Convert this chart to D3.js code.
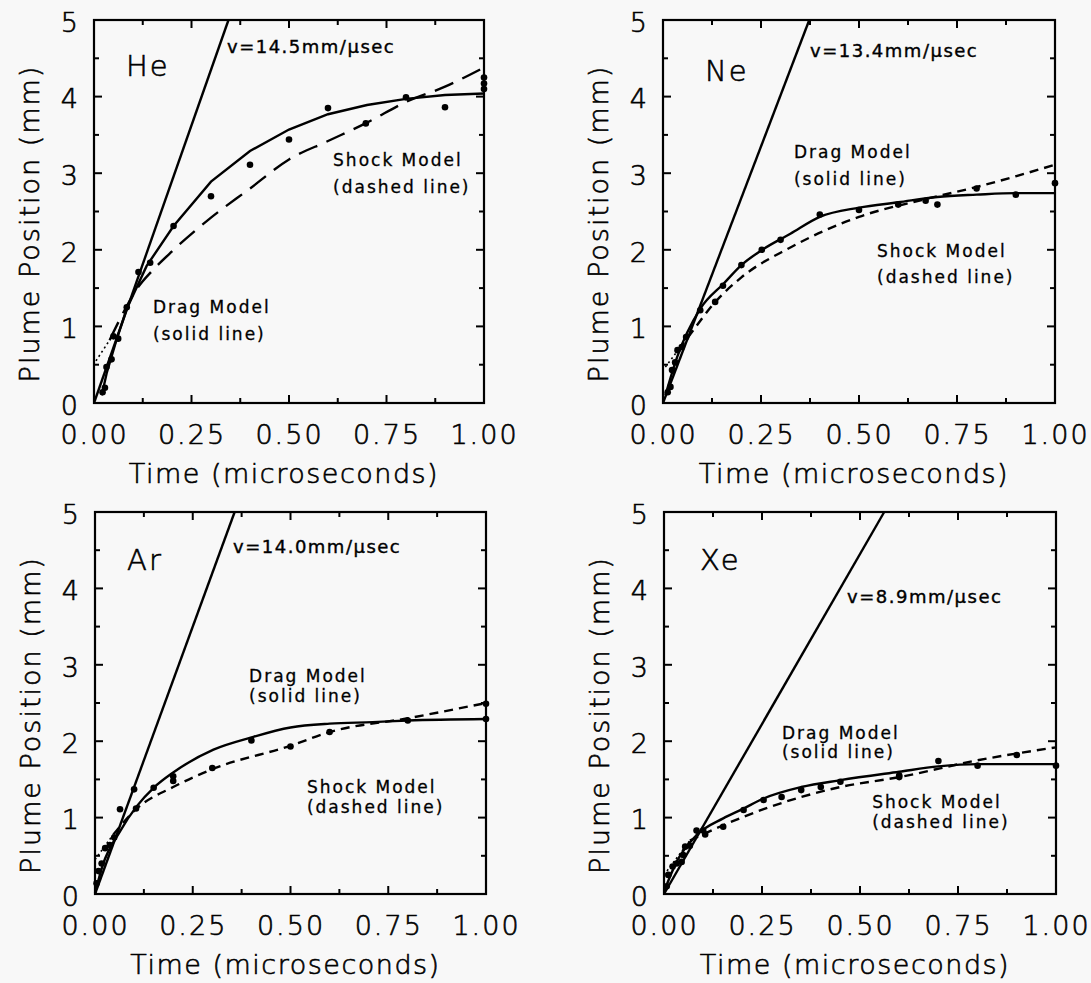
<!DOCTYPE html>
<html>
<head>
<meta charset="utf-8">
<script src="https://cdn.jsdelivr.net/npm/d3@7"></script>
<style>
  body { margin: 0; background: #f8f8f8; }
  svg text { font-family: "DejaVu Sans", sans-serif; fill: #000; }
  .light { font-weight: 200; stroke: #000; stroke-width: 0.6px; }
</style>
</head>
<body>
<svg id="chart" width="1091" height="983"></svg>
<script>
// ---- data ----
const gases = ["He", "Ne", "Ar", "Xe"];
const velocities = [14.5, 13.4, 14.0, 8.9];
const velocityLabels = ["v=14.5mm/\u00b5sec", "v=13.4mm/\u00b5sec", "v=14.0mm/\u00b5sec", "v=8.9mm/\u00b5sec"];

// measured plume positions
const heTime = [0.022, 0.028, 0.032, 0.045, 0.05, 0.062, 0.084, 0.114, 0.144, 0.204, 0.30, 0.40, 0.50, 0.60, 0.697, 0.80, 0.90, 1.0, 1.0, 1.0];
const hePos  = [0.14, 0.20, 0.47, 0.57, 0.87, 0.84, 1.25, 1.71, 1.83, 2.31, 2.70, 3.11, 3.44, 3.85, 3.65, 3.99, 3.86, 4.25, 4.17, 4.10];
const neTime = [0.012, 0.019, 0.023, 0.031, 0.037, 0.048, 0.059, 0.095, 0.133, 0.153, 0.20, 0.252, 0.30, 0.40, 0.50, 0.60, 0.67, 0.70, 0.80, 0.90, 1.0];
const nePos  = [0.14, 0.21, 0.43, 0.53, 0.69, 0.73, 0.86, 1.21, 1.32, 1.53, 1.80, 2.00, 2.13, 2.46, 2.52, 2.59, 2.64, 2.59, 2.80, 2.72, 2.87];
const arTime = [0.004, 0.009, 0.017, 0.026, 0.038, 0.049, 0.064, 0.10, 0.105, 0.15, 0.20, 0.20, 0.30, 0.40, 0.50, 0.60, 0.80, 1.0, 1.0];
const arPos  = [0.14, 0.30, 0.40, 0.60, 0.64, 0.74, 1.11, 1.37, 1.12, 1.39, 1.48, 1.54, 1.65, 2.01, 1.93, 2.12, 2.27, 2.49, 2.29];
const xeTime = [0.007, 0.011, 0.022, 0.032, 0.045, 0.049, 0.054, 0.066, 0.083, 0.10, 0.105, 0.151, 0.203, 0.254, 0.30, 0.35, 0.40, 0.45, 0.60, 0.60, 0.70, 0.80, 0.90, 1.0];
const xePos  = [0.10, 0.25, 0.36, 0.40, 0.42, 0.51, 0.62, 0.63, 0.83, 0.83, 0.78, 0.88, 1.10, 1.23, 1.27, 1.36, 1.40, 1.47, 1.55, 1.53, 1.74, 1.68, 1.82, 1.68];

// drag model (solid)
const heDragT = [0.02, 0.033, 0.058, 0.084, 0.135, 0.204, 0.30, 0.40, 0.50, 0.60, 0.70, 0.80, 0.90, 1.0];
const heDragY = [0.10, 0.40, 0.83, 1.23, 1.79, 2.31, 2.89, 3.29, 3.57, 3.77, 3.89, 3.97, 4.02, 4.04];
const neDragT = [0.006, 0.036, 0.095, 0.155, 0.2, 0.25, 0.325, 0.4, 0.5, 0.6, 0.7, 0.8, 0.9, 1.0];
const neDragY = [0.10, 0.60, 1.23, 1.56, 1.80, 1.99, 2.21, 2.43, 2.55, 2.62, 2.69, 2.72, 2.74, 2.74];
const arDragT = [0, 0.02, 0.064, 0.107, 0.15, 0.2, 0.303, 0.4, 0.5, 0.6, 0.71, 0.8, 1.0];
const arDragY = [0.01, 0.38, 0.82, 1.15, 1.39, 1.59, 1.89, 2.05, 2.18, 2.23, 2.25, 2.27, 2.29];
const xeDragT = [0, 0.032, 0.083, 0.151, 0.2, 0.254, 0.35, 0.45, 0.6, 0.7, 0.8, 1.0];
const xeDragY = [0.03, 0.42, 0.77, 0.99, 1.11, 1.25, 1.40, 1.49, 1.60, 1.67, 1.70, 1.70];

// shock model (dashed, first segment dotted)
const heShockT = [0.005, 0.04, 0.067, 0.11, 0.15, 0.2, 0.3, 0.4, 0.5, 0.6, 0.7, 0.8, 0.9, 1.0];
const heShockY = [0.55, 0.82, 1.10, 1.49, 1.73, 1.98, 2.42, 2.80, 3.18, 3.42, 3.66, 3.93, 4.13, 4.38];
const neShockT = [0.006, 0.04, 0.07, 0.13, 0.2, 0.325, 0.5, 0.66, 0.8, 1.0];
const neShockY = [0.47, 0.70, 0.90, 1.30, 1.64, 2.03, 2.43, 2.65, 2.82, 3.11];
const arShockT = [0, 0.047, 0.107, 0.2, 0.303, 0.5, 0.6, 0.8, 1.0];
const arShockY = [0.45, 0.78, 1.12, 1.40, 1.64, 1.94, 2.12, 2.30, 2.50];
const xeShockT = [0, 0.066, 0.151, 0.254, 0.45, 0.6, 0.8, 1.0];
const xeShockY = [0.25, 0.70, 0.90, 1.11, 1.40, 1.53, 1.75, 1.92];

// axis ticks
const xMajor = [0, 0.25, 0.5, 0.75, 1.0];
const xMinor = [0.125, 0.375, 0.625, 0.875];
const yMajor = [0, 1, 2, 3, 4, 5];
const yMinor = [0.5, 1.5, 2.5, 3.5, 4.5];

// annotation anchors in data units [t, mm]
const nameAt  = [[0.082, 4.27], [0.107, 4.20], [0.082, 4.24], [0.092, 4.24]];
const velAt   = [[0.341, 4.57], [0.375, 4.52], [0.353, 4.46], [0.467, 3.81]];
const dragAt  = [[0.151, 1.18], [0.334, 3.20], [0.394, 2.77], [0.301, 2.03]];
const shockAt = [[0.613, 3.10], [0.546, 1.91], [0.542, 1.32], [0.531, 1.13]];
const dragGap  = [27, 27, 20, 19];
const shockGap = [27, 26, 20, 20];

// ---- layout ----
const frames = [
  { x0: 94,  x1: 484,  y0: 20,  y1: 403 },
  { x0: 663, x1: 1055, y0: 20,  y1: 403 },
  { x0: 95,  x1: 486,  y0: 512, y1: 894 },
  { x0: 664, x1: 1056, y0: 512, y1: 894 }
];
const dashStyle = ["20,10", "9,6", "9,6", "9,6"];
const dragCurve = [d3.curveLinear, d3.curveMonotoneX, d3.curveMonotoneX, d3.curveMonotoneX];

const zip = (a, b) => a.map((v, i) => [v, b[i]]);
const panels = [
  { pts: zip(heTime, hePos), drag: zip(heDragT, heDragY), shock: zip(heShockT, heShockY) },
  { pts: zip(neTime, nePos), drag: zip(neDragT, neDragY), shock: zip(neShockT, neShockY) },
  { pts: zip(arTime, arPos), drag: zip(arDragT, arDragY), shock: zip(arShockT, arShockY) },
  { pts: zip(xeTime, xePos), drag: zip(xeDragT, xeDragY), shock: zip(xeShockT, xeShockY) }
];

const svg = d3.select("#chart");

panels.forEach((p, i) => {
  const f = frames[i];
  const x = d3.scaleLinear().domain([0, 1]).range([f.x0, f.x1]);
  const y = d3.scaleLinear().domain([0, 5]).range([f.y1, f.y0]);
  const g = svg.append("g");

  // tick labels from d3 axes (tick lines drawn separately below)
  const bx = g.append("g").attr("transform", `translate(0,${f.y1})`)
    .call(d3.axisBottom(x).tickValues(xMajor).tickFormat(d3.format(".2f")).tickSize(0).tickPadding(22));
  bx.select(".domain").remove();
  bx.selectAll(".tick text").attr("class", "light").style("font-size", "27px").style("letter-spacing", "2px");

  const ly = g.append("g").attr("transform", `translate(${f.x0},0)`)
    .call(d3.axisLeft(y).tickValues(yMajor).tickFormat(d3.format("d")).tickSize(0).tickPadding(16));
  ly.select(".domain").remove();
  ly.selectAll(".tick text").attr("class", "light").style("font-size", "27px").attr("dy", "0.42em");

  // inward ticks on all four sides
  const tickG = g.append("g").attr("stroke", "#000").attr("stroke-width", 2);
  [[xMajor, 8], [xMinor, 5]].forEach(([vals, len]) => {
    tickG.selectAll(null).data(vals).join("line")
      .attr("x1", d => x(d)).attr("x2", d => x(d))
      .attr("y1", f.y1).attr("y2", f.y1 - len);
    tickG.selectAll(null).data(vals).join("line")
      .attr("x1", d => x(d)).attr("x2", d => x(d))
      .attr("y1", f.y0).attr("y2", f.y0 + len);
  });
  [[yMajor, 8], [yMinor, 5]].forEach(([vals, len]) => {
    tickG.selectAll(null).data(vals).join("line")
      .attr("y1", d => y(d)).attr("y2", d => y(d))
      .attr("x1", f.x0).attr("x2", f.x0 + len);
    tickG.selectAll(null).data(vals).join("line")
      .attr("y1", d => y(d)).attr("y2", d => y(d))
      .attr("x1", f.x1).attr("x2", f.x1 - len);
  });

  // frame
  g.append("rect")
    .attr("x", f.x0).attr("y", f.y0)
    .attr("width", f.x1 - f.x0).attr("height", f.y1 - f.y0)
    .attr("fill", "none").attr("stroke", "#000").attr("stroke-width", 2.2);

  // axis titles
  g.append("text").attr("class", "light")
    .attr("x", (f.x0 + f.x1) / 2 - 5).attr("y", f.y1 + 80)
    .attr("text-anchor", "middle")
    .style("font-size", "27px").style("letter-spacing", "1.5px")
    .text("Time (microseconds)");
  g.append("text").attr("class", "light")
    .attr("transform", `translate(${f.x0 - 55},${(f.y0 + f.y1) / 2 + 12}) rotate(-90)`)
    .attr("text-anchor", "middle")
    .style("font-size", "27px").style("letter-spacing", "2px")
    .text("Plume Position (mm)");

  const line = d3.line().x(d => x(d[0])).y(d => y(d[1]));
  const smooth = d3.line().x(d => x(d[0])).y(d => y(d[1])).curve(d3.curveMonotoneX);

  // constant-velocity line from origin to the top of the frame
  const v = velocities[i];
  g.append("path").datum([[0, 0], [5 / v, 5]])
    .attr("d", line).attr("fill", "none")
    .attr("stroke", "#000").attr("stroke-width", 2.4);

  // drag model
  g.append("path").datum(p.drag)
    .attr("d", d3.line().x(d => x(d[0])).y(d => y(d[1])).curve(dragCurve[i]))
    .attr("fill", "none")
    .attr("stroke", "#000").attr("stroke-width", 2.4);

  // shock model: dotted start, dashed remainder
  g.append("path").datum(p.shock.slice(0, 2))
    .attr("d", line).attr("fill", "none")
    .attr("stroke", "#000").attr("stroke-width", 1.6).attr("stroke-dasharray", "2,3");
  g.append("path").datum(p.shock.slice(1))
    .attr("d", smooth).attr("fill", "none")
    .attr("stroke", "#000").attr("stroke-width", 2.4).attr("stroke-dasharray", dashStyle[i]);

  // data points
  g.selectAll("circle.pt").data(p.pts).join("circle")
    .attr("class", "pt")
    .attr("cx", d => x(d[0])).attr("cy", d => y(d[1]))
    .attr("r", 3.3).attr("fill", "#000");

  // annotations
  g.append("text").attr("class", "light")
    .attr("x", x(nameAt[i][0])).attr("y", y(nameAt[i][1]))
    .style("font-size", "29px").style("letter-spacing", "2px")
    .text(gases[i]);
  g.append("text")
    .attr("x", x(velAt[i][0])).attr("y", y(velAt[i][1]))
    .style("font-size", "18px").style("letter-spacing", "1.5px")
    .style("stroke", "#000").style("stroke-width", 0.4)
    .text(velocityLabels[i]);

  const note = (at, gap, l1, l2) => {
    const t = g.append("text")
      .style("font-size", "17px").style("letter-spacing", "2px")
      .style("stroke", "#000").style("stroke-width", 0.3);
    t.append("tspan").attr("x", x(at[0])).attr("y", y(at[1])).text(l1);
    t.append("tspan").attr("x", x(at[0])).attr("y", y(at[1]) + gap).text(l2);
  };
  note(dragAt[i], dragGap[i], "Drag Model", "(solid line)");
  note(shockAt[i], shockGap[i], "Shock Model", "(dashed line)");
});
</script>
</body>
</html>
